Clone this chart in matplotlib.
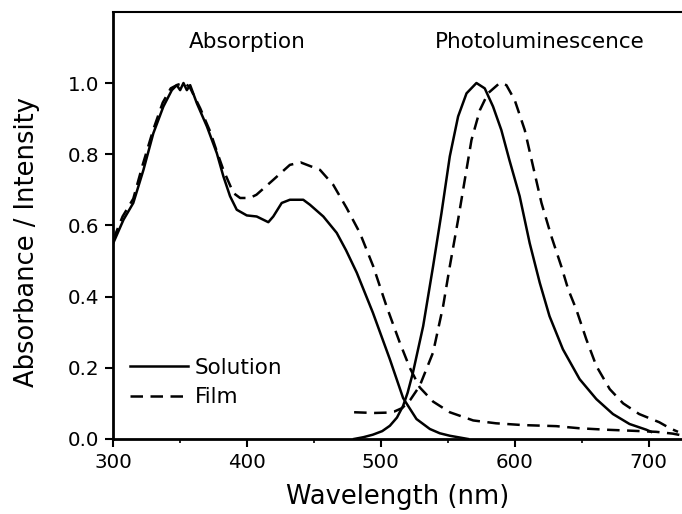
import numpy as np
import matplotlib
matplotlib.use('Agg')
import matplotlib.pyplot as plt

plt.rcParams['font.family'] = ['DejaVu Sans']

# absorption, solution
abs_sol_wl = [300, 307.7, 315, 322.6, 330, 337.5, 343.8, 347.5, 350, 352.5, 355, 357.5,
              362.5, 370, 377.4, 382.3, 387.3, 392.3, 399.8, 407.2, 415.9, 419.6, 425.9,
              432, 442, 447, 457, 467, 474, 482, 494, 506.7, 516.6, 526.6, 536.6, 544,
              551.5, 565]
abs_sol = [0.55, 0.616, 0.663, 0.756, 0.859, 0.934, 0.98, 0.994, 0.98, 1.0, 0.98, 0.994,
           0.943, 0.878, 0.803, 0.738, 0.682, 0.644, 0.628, 0.625, 0.609, 0.625, 0.663,
           0.672, 0.672, 0.658, 0.625, 0.579, 0.53, 0.467, 0.355, 0.224, 0.115, 0.056,
           0.028, 0.016, 0.009, 0.0]

# absorption, film
abs_film_wl = [300, 307, 315, 322, 330, 337, 343, 348, 352.5, 357, 365, 372.4, 377.4, 382.3,
               389.8, 394.8, 402, 407, 419.6, 432, 440, 454.5, 464.4, 474.4, 484.3, 494.3,
               504.2, 514, 521.6, 529, 539, 551.5, 569, 586, 606, 631, 648.5, 668, 688,
               705.7, 718, 725]
abs_film = [0.56, 0.625, 0.675, 0.77, 0.87, 0.945, 0.985, 0.995, 1.0, 0.99, 0.929, 0.864,
            0.808, 0.756, 0.691, 0.677, 0.677, 0.686, 0.728, 0.77, 0.777, 0.756, 0.714,
            0.649, 0.579, 0.485, 0.373, 0.272, 0.2, 0.145, 0.105, 0.075, 0.052, 0.044,
            0.039, 0.036, 0.03, 0.026, 0.023, 0.02, 0.015, 0.01]

# photoluminescence, solution
pl_sol_wl = [480, 487, 494, 501, 506.7, 512, 516.6, 520, 524, 531.6, 539, 545.3, 551.5,
             557.7, 564, 571.4, 577.6, 583.8, 590, 596, 603.7, 611.2, 618.7, 626, 636,
             648.5, 661, 673.4, 685.8, 698.3, 702]
pl_sol = [0.0, 0.005, 0.012, 0.022, 0.037, 0.06, 0.093, 0.13, 0.187, 0.317, 0.485, 0.635,
          0.794, 0.906, 0.971, 1.0, 0.985, 0.934, 0.868, 0.784, 0.682, 0.55, 0.439, 0.345,
          0.252, 0.168, 0.112, 0.07, 0.042, 0.026, 0.02]

# photoluminescence, film
pl_film_wl = [480, 495, 505, 510, 516, 522, 529, 539, 546.5, 551.5, 557.7, 562.7, 567.7,
              574, 580, 588.8, 593.8, 600, 607.5, 613.7, 620, 627.4, 634.8, 640, 646, 653.5,
              661, 671, 681, 693, 708, 716, 722]
pl_film = [0.075, 0.073, 0.074, 0.077, 0.087, 0.11, 0.149, 0.243, 0.373, 0.485, 0.616,
           0.728, 0.84, 0.924, 0.971, 1.0, 0.994, 0.952, 0.868, 0.766, 0.663, 0.569, 0.485,
           0.42, 0.364, 0.28, 0.205, 0.14, 0.1, 0.07, 0.047, 0.03, 0.02]

dash = (0, (5, 3))
lw = 1.8

fig = plt.figure(figsize=(6.82, 5.14), dpi=100)
ax = fig.add_axes([0.166, 0.146, 0.834, 0.831])

ax.plot(abs_sol_wl, abs_sol, 'k-', lw=lw, label='Solution')
ax.plot(abs_film_wl, abs_film, color='k', ls=dash, lw=lw, label='Film')
ax.plot(pl_sol_wl, pl_sol, 'k-', lw=lw)
ax.plot(pl_film_wl, pl_film, color='k', ls=dash, lw=lw)

ax.set_xlim(300, 725)
ax.set_ylim(0, 1.2)
ax.set_xticks([300, 400, 500, 600, 700])
ax.set_xticks(np.arange(350, 725, 100), minor=True)
ax.set_yticks([0.0, 0.2, 0.4, 0.6, 0.8, 1.0])
ax.set_yticklabels(['0.0', '0.2', '0.4', '0.6', '0.8', '1.0'])
ax.tick_params(which='major', direction='out', length=6, width=1.5, labelsize=14.3, pad=4)
ax.tick_params(which='minor', direction='out', length=3, width=1.2)

ax.spines['right'].set_visible(False)
ax.spines['left'].set_linewidth(2)
ax.spines['bottom'].set_linewidth(2)
ax.spines['top'].set_linewidth(1.5)

ax.set_xlabel('Wavelength (nm)', fontsize=18.5, labelpad=9)
ax.set_ylabel('Absorbance / Intensity', fontsize=18.5)
ax.yaxis.set_label_coords(-0.128, 0.46)

ax.text(400, 1.115, 'Absorption', fontsize=15.5, ha='center', va='center')
ax.text(619, 1.115, 'Photoluminescence', fontsize=15.5, ha='center', va='center')

ax.legend(loc='upper left', bbox_to_anchor=(0.03, 0.19), frameon=False, fontsize=15.5,
          handlelength=2.7, handletextpad=0.3, labelspacing=0.45, borderpad=0,
          borderaxespad=0)

fig.savefig('out.png', dpi=100)
